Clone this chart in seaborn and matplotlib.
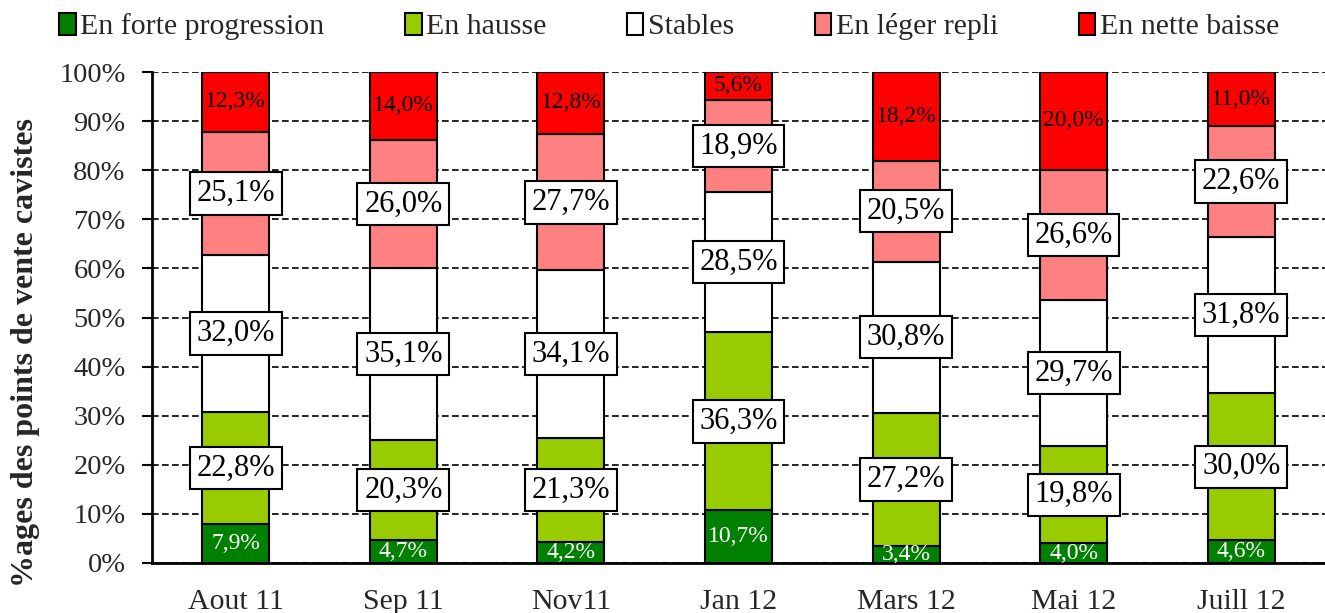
import matplotlib
matplotlib.use("Agg")
import matplotlib.pyplot as plt
import matplotlib.patches as mpatches
import seaborn as sns
import numpy as np

months = ["Aout 11", "Sep 11", "Nov11", "Jan 12", "Mars 12", "Mai 12", "Juill 12"]
series = ["En forte progression", "En hausse", "Stables", "En léger repli", "En nette baisse"]
forte = [7.9, 4.7, 4.2, 10.7, 3.4, 4.0, 4.6]
hausse = [22.8, 20.3, 21.3, 36.3, 27.2, 19.8, 30.0]
stables = [32.0, 35.1, 34.1, 28.5, 30.8, 29.7, 31.8]
repli = [25.1, 26.0, 27.7, 18.9, 20.5, 26.6, 22.6]
baisse = [12.3, 14.0, 12.8, 5.6, 18.2, 20.0, 11.0]
colors = ["#008000", "#99CC00", "#FFFFFF", "#FF8080", "#FF0000"]

sns.set_style("white")
plt.rcParams["font.family"] = ["Liberation Serif", "DejaVu Serif"]

fig = plt.figure(figsize=(13.25, 6.13), dpi=100)
ax = fig.add_axes([0.1147, 0.0816, 0.8853, 0.8009])

data = [forte, hausse, stables, repli, baisse]
bottom = np.zeros(len(months))
for vals, col in zip(data, colors):
    sns.barplot(x=months, y=vals, bottom=bottom, color=col, width=0.4,
                edgecolor="black", linewidth=1.5, ax=ax, zorder=2, saturation=1)
    bottom = bottom + np.array(vals)

# labels
bottom = np.zeros(len(months))
for k, vals in enumerate(data):
    for i, v in enumerate(vals):
        yc = bottom[i] + v / 2
        txt = f"{v:.1f}%".replace(".", ",")
        if k == 0:
            ax.text(i, yc, txt, ha="center", va="center", fontsize=17,
                    color="white", zorder=4, clip_on=True)
        elif k == 4:
            ax.text(i, yc, txt, ha="center", va="center", fontsize=17,
                    color="black", zorder=4, clip_on=True)
        else:
            ax.text(i, yc, txt, ha="center", va="center", fontsize=22,
                    color="black", zorder=4,
                    bbox=dict(boxstyle="square,pad=0.22", fc="white",
                              ec="black", lw=1.5))
    bottom = bottom + np.array(vals)

ax.set_ylim(0, 100)
ax.set_xlim(-0.5, 6.5)
ax.set_yticks(np.arange(0, 101, 10))
ax.set_yticklabels([f"{t}%" for t in range(0, 101, 10)], fontsize=20.5)
ax.yaxis.grid(True, linestyle=(0, (4, 2)), color="black", linewidth=1.2, zorder=0)
ax.set_axisbelow(True)
ax.set_xticks(range(len(months)))
ax.set_xticklabels(months, fontsize=21.5)
ax.set_xticks(np.arange(-0.5, 7, 1), minor=True)
ax.tick_params(axis="x", which="major", length=0, pad=19)
ax.tick_params(axis="x", which="minor", length=8, width=1.5, direction="out", color="black")
ax.tick_params(axis="y", length=7, width=1.5, direction="out", left=True, color="black", pad=12)
for s in ["top", "right"]:
    ax.spines[s].set_visible(False)
for s in ["left", "bottom"]:
    ax.spines[s].set_color("black")
    ax.spines[s].set_linewidth(2)
ax.set_xlabel("")
ax.set_ylabel("%ages des points de vente cavistes", fontsize=23, fontweight="bold")
ax.yaxis.set_label_coords(-0.0955, 0.428)

handles = [mpatches.Patch(facecolor=c, edgecolor="black", linewidth=1.5) for c in colors]
fig.legend(handles, series, loc="center", bbox_to_anchor=(0.505, 0.957), ncol=5,
           frameon=False, fontsize=21.5, handlelength=0.55, handleheight=0.75,
           handletextpad=0.15, columnspacing=2.7)

fig.savefig("out.png", dpi=100)
